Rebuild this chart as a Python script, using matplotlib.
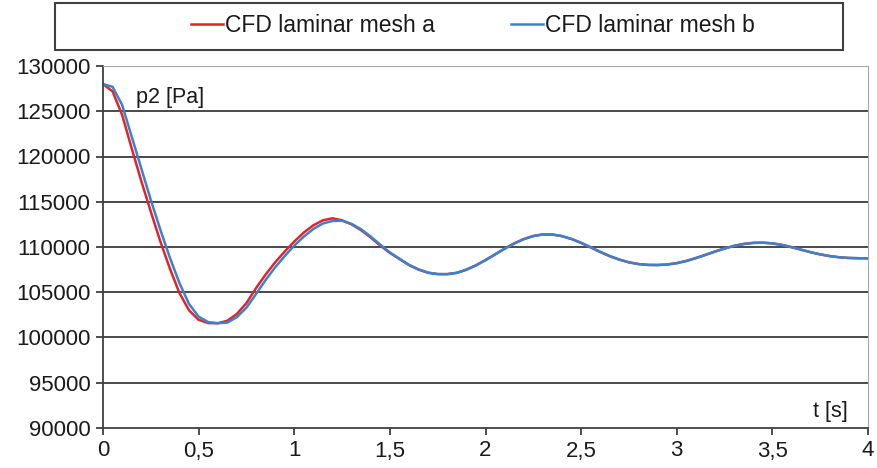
import matplotlib.pyplot as plt
from matplotlib.patches import Rectangle
from matplotlib.ticker import FuncFormatter

plt.rcParams['font.family'] = ['Liberation Sans', 'DejaVu Sans']

# time [s], 0.05 s steps
t = [i * 0.05 for i in range(81)]

# p2 [Pa], CFD laminar mesh a (red)
p_mesh_a = [
    128000, 127200, 124600, 120900, 117300, 113900, 110600, 107600, 104900, 103000,
    101950, 101600, 101570, 101850, 102600, 103800, 105450, 106950, 108300, 109500,
    110600, 111600, 112400, 112950, 113170, 112950, 112500, 111850, 111050, 110150,
    109350, 108680, 108000, 107500, 107150, 107000, 107000, 107150, 107500, 107980,
    108560, 109190, 109825, 110400, 110880, 111220, 111390, 111380, 111200, 110880,
    110450, 109950, 109450, 108980, 108600, 108300, 108110, 108020, 108010, 108065,
    108220, 108465, 108780, 109135, 109500, 109840, 110130, 110340, 110460, 110480,
    110400, 110230, 109980, 109700, 109420, 109180, 108990, 108860, 108790, 108760,
    108750,
]

# p2 [Pa], CFD laminar mesh b (blue)
p_mesh_b = [
    128000, 127700, 125700, 122200, 118700, 115200, 111900, 108800, 106000, 103700,
    102300, 101700, 101580, 101650, 102250, 103300, 104800, 106350, 107750, 109000,
    110150, 111150, 112000, 112600, 112880, 112900, 112550, 111950, 111150, 110250,
    109400, 108700, 108030, 107530, 107170, 107010, 107000, 107140, 107480, 107960,
    108540, 109170, 109800, 110380, 110860, 111200, 111380, 111380, 111200, 110890,
    110460, 109970, 109470, 109000, 108620, 108310, 108120, 108020, 108010, 108060,
    108210, 108450, 108770, 109120, 109490, 109830, 110120, 110330, 110450, 110470,
    110400, 110230, 109990, 109710, 109430, 109190, 109000, 108870, 108790, 108760,
    108750,
]

x_ticks = [0, 0.5, 1, 1.5, 2, 2.5, 3, 3.5, 4]
y_ticks = list(range(90000, 130001, 5000))

fig = plt.figure(figsize=(8.77, 4.68), dpi=100)
ax = fig.add_axes([103 / 877, 1 - 428 / 468, 765 / 877, 362 / 468])

ax.plot(t, p_mesh_a, color='#e3232b', lw=1.8, label='CFD laminar mesh a')
ax.plot(t, p_mesh_b, color='#3b82cc', lw=1.8, label='CFD laminar mesh b')

ax.set_xlim(0, 4)
ax.set_ylim(90000, 130000)
ax.set_xticks(x_ticks)
ax.set_yticks(y_ticks)
ax.xaxis.set_major_formatter(FuncFormatter(lambda v, p: f'{v:g}'.replace('.', ',')))
ax.yaxis.set_major_formatter(FuncFormatter(lambda v, p: f'{int(v)}'))

for y in y_ticks[1:-1]:
    ax.axhline(y, color='#3a3a3a', lw=1.3, zorder=0)

ax.spines['top'].set_color('#a8a8a8')
ax.spines['right'].set_color('#a8a8a8')
ax.spines['left'].set_color('#404040')
ax.spines['bottom'].set_color('#404040')
ax.spines['left'].set_linewidth(1.3)
ax.spines['bottom'].set_linewidth(1.3)
ax.tick_params(axis='both', length=5, width=1.3, color='#404040',
               labelsize=16, labelcolor='#1a1a1a')
ax.tick_params(axis='x', pad=4)
ax.tick_params(axis='y', pad=4)

ax.text(0.175, 126500, 'p2 [Pa]', fontsize=15.5, color='#1a1a1a', va='center', ha='left')
ax.text(3.71, 91800, 't [s]', fontsize=15.5, color='#1a1a1a', va='center', ha='left')

fig.patches.append(Rectangle((55 / 877, 1 - 50 / 468), 788 / 877, 47 / 468,
                             transform=fig.transFigure, fill=False,
                             edgecolor='#404040', lw=1.5))
fig.legend(loc='center', bbox_to_anchor=(473 / 877, 1 - 26 / 468), ncol=2,
           frameon=False, fontsize=16.5, handlelength=1.4, handletextpad=0.1,
           columnspacing=3.3, labelcolor='#1a1a1a')

fig.savefig('out.png', dpi=100)
